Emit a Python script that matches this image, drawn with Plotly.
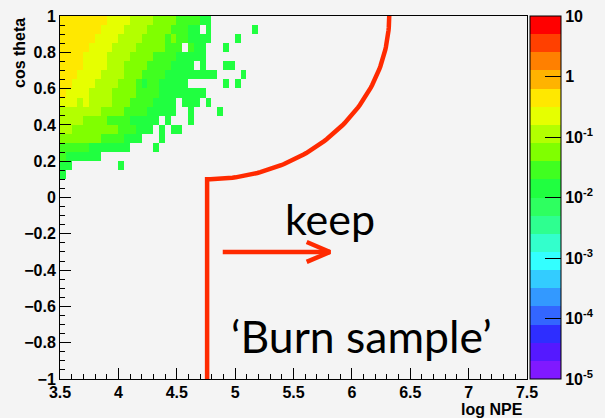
import math
import plotly.graph_objects as go

# ---------------- data ----------------
# histogram binning: x = log NPE from 3.5 in 0.05 steps, y = cos theta from 1.0 downward in 0.05 steps
x_start = 3.5
y_top = 1.0
bin_w = 0.05

# colour-band code of every filled cell ('.' = empty); row 0 is cos theta in [0.95, 1.0]
grid = [
    "55555555" + "6666" + "7777" + "8888" + "9999" + "aa" + "........",
    "5555555" + "6666" + "7777" + "8888" + "999" + "aa" + "." + "a" + "......." + "a",
    "555555" + "6666" + "7777" + "888" + "8" + "9" + "8" + "99aaa" + "a" + "...." + "a" + "...",
    "55555" + "6666" + "7777" + "88888" + "999" + "." + "9aa" + "..." + "a" + ".....",
    "5555" + "6666" + "7777" + "8888" + "9999" + "aaaaa" + ".........",
    "5555" + "6666" + "777" + "8888" + "9999" + "aaaa" + "." + "a" + "..." + "aa" + "....",
    "555" + "6666" + "7777" + "888" + "9999" + "aaaaaaaaa" + "...." + "a" + "..",
    "55" + "6666" + "7777" + "888" + "9a99" + "aaaaa" + "......" + "a" + "." + "a" + "...",
    "5" + "6666" + "7777" + "8888" + "9999" + "aaaaaaaa" + ".........",
    "666" + "7" + "6" + "7777" + "888" + "9999" + "aaaa" + "." + "aaa" + "." + "a" + "........",
    "7777777" + "8888" + "9999" + "aaaaa" + ".." + "a" + "...." + "a" + "......",
    "7777" + "8888" + "9999" + "aaaaa" + "." + "a" + "..." + "a" + "...........",
    "77" + "88888888" + "999aaa" + "." + "a" + "." + "aa" + ".............",
    "8888888" + "9999aaa" + "..." + "a" + "................",
    "99999aaaaaaa" + "...." + "a" + ".................",
    "9aaaaaa" + "." * 27,
    "aa" + "........" + "a" + "." * 23,
    "a" + "." * 33,
]
# representative event weight for each colour band
band_value = {"5": 0.45, "6": 0.22, "7": 0.11, "8": 0.056, "9": 0.028, "a": 0.014}

# colour bar: 20 bands from 1e-5 (bottom) to 10 (top)
band_colors = [
    "#8019FF", "#5519FF", "#2E2EFF", "#3366FF", "#3399FF",
    "#33CCFF", "#33FFFF", "#33FFCC", "#2EFF90", "#2EFF60",
    "#20FF40", "#40FF20", "#80FF00", "#B3FF00", "#E6FF00",
    "#FFE800", "#FFB300", "#FF8000", "#FF4000", "#FF0000",
]
cbar_tickvals = [-5, -4, -3, -2, -1, 0, 1]
cbar_ticktext = ["10<sup>-5</sup>", "10<sup>-4</sup>", "10<sup>-3</sup>",
                 "10<sup>-2</sup>", "10<sup>-1</sup>", "1", "10"]

# cut line: vertical at log NPE = cut_x up to cos theta = cut_y, then a quarter ellipse to (curve_end_x, 1)
cut_x = 4.76
cut_y = 0.1
curve_end_x = 6.32
# arrow
arrow_x0, arrow_x1, arrow_y = 4.894, 5.813, -0.30

# ---------------- build ----------------
ncol = len(grid[0])
xc = [x_start + bin_w * (k + 0.5) for k in range(ncol)]
yc = [y_top - bin_w * (j + 0.5) for j in range(len(grid))]
z = [[math.log10(band_value[c]) if c != "." else None for c in row] for row in grid]

cs = []
n = len(band_colors)
for i, c in enumerate(band_colors):
    cs.append([i / n, c])
    cs.append([(i + 1) / n, c])

L, R, T, B = 60, 78, 16, 39
W, H = 605, 418
pw, ph = W - L - R, H - T - B

bold = dict(family="Liberation Sans, Arial, sans-serif", size=16, color="black", weight="bold")

fig = go.Figure()
fig.add_trace(go.Heatmap(
    x=xc, y=yc, z=z, zmin=-5, zmax=1, colorscale=cs, hoverinfo="skip",
    colorbar=dict(
        thickness=31, thicknessmode="pixels", len=ph, lenmode="pixels",
        x=(530 - L) / pw, xanchor="left", xpad=0, y=1, yanchor="top", ypad=0,
        outlinewidth=1, outlinecolor="black",
        tickmode="array", tickvals=cbar_tickvals, ticktext=cbar_ticktext,
        ticks="inside", ticklen=16, tickcolor="black", tickwidth=1,
        tickfont=bold,
    ),
))

# cut line
rx = curve_end_x - cut_x
ry = y_top - cut_y
cx_pts = [cut_x, cut_x]
cy_pts = [-1.0, cut_y]
N = 90
for i in range(N + 1):
    t = (math.pi / 2) * i / N
    cx_pts.append(cut_x + rx * math.sin(t))
    cy_pts.append(y_top - ry * math.cos(t))
fig.add_trace(go.Scatter(x=cx_pts, y=cy_pts, mode="lines", cliponaxis=False,
                         line=dict(color="#FF2A00", width=4.5),
                         hoverinfo="skip", showlegend=False))

# arrow (open head)
hx = 0.20
hy = 0.055
fig.add_trace(go.Scatter(
    x=[arrow_x0, arrow_x1, None, arrow_x1 - hx, arrow_x1, arrow_x1 - hx],
    y=[arrow_y, arrow_y, None, arrow_y + hy, arrow_y, arrow_y - hy],
    mode="lines", line=dict(color="#FF2A00", width=4.5), hoverinfo="skip", showlegend=False))

# minor ticks on colour bar (log scale 2..9)
bar_right = (561 - L) / pw
for d in range(-5, 1):
    for m in range(2, 10):
        v = d + math.log10(m)
        yy = (v + 5) / 6
        ln = 8 if m == 5 else 6
        fig.add_shape(type="line", xref="paper", yref="paper",
                      x0=bar_right, x1=bar_right - ln / pw, y0=yy, y1=yy,
                      line=dict(color="black", width=1))

fig.add_annotation(text="keep", x=5.813, y=-0.118, xref="x", yref="y", showarrow=False,
                   font=dict(family="Lato", size=43, color="black"), xanchor="center", yanchor="middle")
fig.add_annotation(text="\u2018Burn sample\u2019", x=6.085, y=-0.762, xref="x", yref="y", showarrow=False,
                   font=dict(family="Lato", size=44.5, color="black"), xanchor="center", yanchor="middle")
fig.add_annotation(text="cos theta", textangle=-90, x=(19 - L) / pw, y=1.0, xref="paper", yref="paper",
                   showarrow=False, font=dict(bold, size=16), xanchor="center", yanchor="top")
fig.add_annotation(text="log NPE", x=(525 - L) / pw, y=(H - B - 409) / ph, xref="paper", yref="paper",
                   showarrow=False, font=dict(bold, size=16), xanchor="right", yanchor="middle")

axis_common = dict(showline=True, linecolor="black", linewidth=1, mirror=True, showgrid=False,
                   zeroline=False, ticks="inside", tickcolor="black", tickfont=bold)
fig.update_xaxes(range=[3.5, 7.5], dtick=0.5, tick0=3.5, ticklen=11, ticklabelstandoff=-1,
                 minor=dict(dtick=0.1, ticks="inside", ticklen=5, tickcolor="black"),
                 **axis_common)
fig.update_yaxes(range=[-1, 1], dtick=0.2, tick0=-1, ticklen=11,
                 minor=dict(dtick=0.05, ticks="inside", ticklen=5, tickcolor="black"),
                 **axis_common)

fig.update_layout(
    width=W, height=H, margin=dict(l=L, r=R, t=T, b=B, autoexpand=False),
    paper_bgcolor="#F4F4F4", plot_bgcolor="#F4F4F4", showlegend=False,
)
fig.write_html("out.html")
